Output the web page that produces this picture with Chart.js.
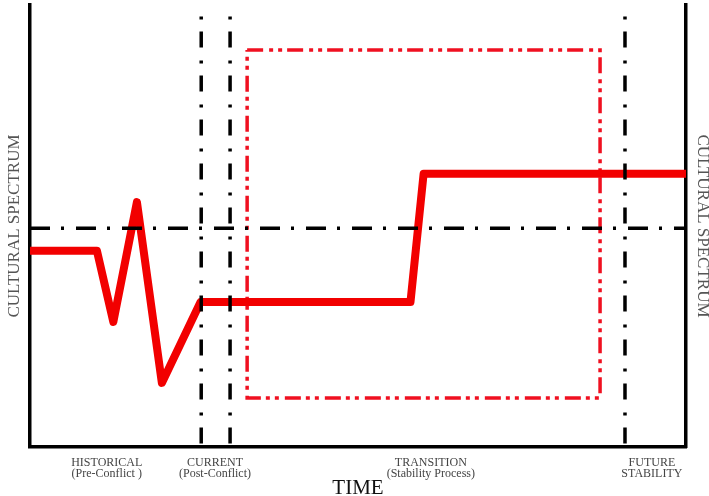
<!DOCTYPE html>
<html>
<head>
  <title>Cultural Spectrum over Time</title>
  <script src="https://cdn.jsdelivr.net/npm/chart.js"></script>
  <style>
    body {
      margin: 0;
      background: #fff;
    }
    #wrap {
      width: 709px;
      height: 496px;
      position: relative;
    }
  </style>
</head>
<body>
  <div id="wrap"><canvas id="myChart"></canvas></div>

  <script>
    // Time axis: 0 (left edge) .. 100 (right edge), spectrum: 0 (bottom) .. 100 (top)
    const phaseLabels = [
      ['HISTORICAL', '(Pre-Conflict )'],
      ['CURRENT', '(Post-Conflict)'],
      ['TRANSITION', '(Stability Process)'],
      ['FUTURE', 'STABILITY']
    ];
    const phaseLabelTime = [11.7, 28.2, 61.1, 94.8];

    // Red cultural spectrum path
    const spectrumTime = [0, 10.2, 12.7, 16.3, 20.1, 26, 58, 60, 100];
    const spectrumValue = [44.4, 44.4, 28.3, 55.4, 14.5, 32.8, 32.8, 61.8, 61.8];

    // Reference lines
    const baselineValue = 49.5;
    const phaseBoundaries = [26.1, 30.5, 90.7];
    const boundaryTop = 97.4;

    // Transition box (time range, spectrum range)
    const boxTime = [33.1, 86.9];
    const boxValue = [11.1, 89.8];

    const serif = "'Liberation Serif', 'DejaVu Serif', serif";

    const datasets = [];

    // vertical dash-dot boundaries (on top)
    phaseBoundaries.forEach(t => {
      datasets.push({
        data: [{ x: t, y: boundaryTop }, { x: t, y: 0 }],
        borderColor: '#000',
        borderWidth: 3.5,
        borderDash: [3, 12, 16, 13],
        borderCapStyle: 'butt',
        pointRadius: 0,
        fill: false
      });
    });

    // horizontal dash-dot baseline
    datasets.push({
      data: [{ x: 0, y: baselineValue }, { x: 100, y: baselineValue }],
      borderColor: '#000',
      borderWidth: 3.5,
      borderDash: [20, 11, 3, 12],
      pointRadius: 0,
      fill: false
    });

    // red spectrum line
    datasets.push({
      data: spectrumTime.map((t, i) => ({ x: t, y: spectrumValue[i] })),
      borderColor: '#f20000',
      borderWidth: 8,
      borderJoinStyle: 'round',
      pointRadius: 0,
      tension: 0,
      fill: false
    });

    // red dash-dot-dot transition box
    datasets.push({
      data: [
        { x: boxTime[0], y: boxValue[1] },
        { x: boxTime[1], y: boxValue[1] },
        { x: boxTime[1], y: boxValue[0] },
        { x: boxTime[0], y: boxValue[0] },
        { x: boxTime[0], y: boxValue[1] }
      ],
      borderColor: '#f01020',
      borderWidth: 3.5,
      borderDash: [16, 6, 4, 5, 4, 5],
      pointRadius: 0,
      fill: false
    });

    const ctx = document.getElementById('myChart').getContext('2d');
    const chart = new Chart(ctx, {
      type: 'line',
      data: { datasets: datasets },
      options: {
        responsive: true,
        maintainAspectRatio: false,
        animation: false,
        layout: { padding: { top: 5, left: 0, right: 0, bottom: 0 } },
        plugins: {
          legend: { display: false },
          tooltip: { enabled: false }
        },
        scales: {
          x: {
            type: 'linear',
            min: 0,
            max: 100,
            afterBuildTicks: (axis) => {
              axis.ticks = phaseLabelTime.map(v => ({ value: v }));
            },
            afterFit: (scale) => { scale.height = 49; },
            grid: { display: false, drawTicks: false },
            border: { display: true, color: '#000', width: 3.5 },
            ticks: {
              autoSkip: false,
              maxRotation: 0,
              minRotation: 0,
              padding: 10,
              color: '#444',
              font: { family: serif, size: 12, lineHeight: 0.95 },
              callback: (value, index) => phaseLabels[index]
            },
            title: {
              display: true,
              text: 'TIME',
              color: '#111',
              font: { family: serif, size: 21, lineHeight: 1 },
              padding: { top: 0, bottom: -3 }
            }
          },
          y: {
            type: 'linear',
            position: 'left',
            min: 0,
            max: 100,
            afterFit: (scale) => { scale.width = 30; },
            grid: { display: false, drawTicks: false },
            border: { display: true, color: '#000', width: 3.5 },
            ticks: { display: false },
            title: {
              display: true,
              text: 'CULTURAL SPECTRUM',
              color: '#555',
              font: { family: serif, size: 17, lineHeight: 1 },
              padding: { top: 6.5, bottom: 0 }
            }
          },
          y2: {
            type: 'linear',
            position: 'right',
            min: 0,
            max: 100,
            afterFit: (scale) => { scale.width = 23; },
            grid: { display: false, drawTicks: false },
            border: { display: true, color: '#000', width: 3.5 },
            ticks: { display: false },
            title: {
              display: true,
              text: 'CULTURAL SPECTRUM',
              color: '#555',
              font: { family: serif, size: 17, lineHeight: 1 },
              padding: { top: -1.5, bottom: 0 }
            }
          }
        }
      }
    });
  </script>
</body>
</html>
